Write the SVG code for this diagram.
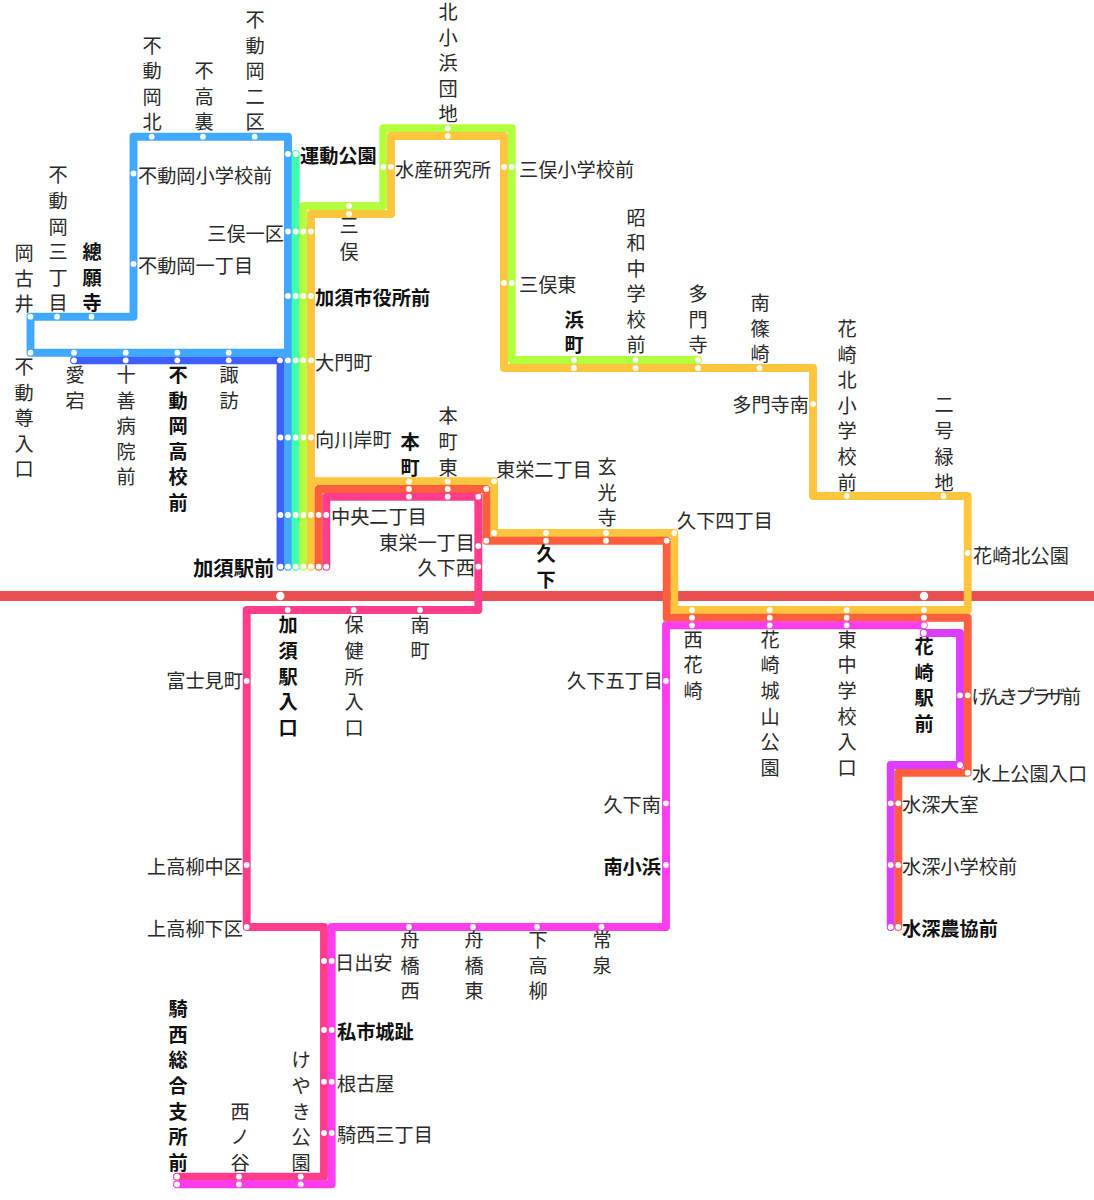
<svg xmlns="http://www.w3.org/2000/svg" width="1094" height="1200" viewBox="0 0 1094 1200">
<style>
text{font-family:"Noto Sans CJK JP","Noto Sans",sans-serif;font-size:19.2px;fill:#2a2a2a}
.b{font-weight:700;fill:#111}
.m{text-anchor:middle}
.e{text-anchor:end}
.l{fill:none;stroke-width:7.9;stroke-linecap:round;stroke-linejoin:round}
circle{fill:#fff;r:2.9px}
.big{r:4.2px}
</style>
<rect width="1094" height="1200" fill="#fff"/>
<g id="connectors">
<path id="rail" d="M0 596H1094" fill="none" stroke="#e85050" stroke-width="9.8"/>
<path class="l" stroke="#3d5fff" d="M74 360.3H280.5V566.7"/>
<path class="l" stroke="#40a8ff" d="M288 566.7V136.7H133.5V316.7H30.5V352.7H288"/>
<path class="l" stroke="#3dffb0" d="M295.7 566.7V154"/>
<path class="l" stroke="#b2ff3d" d="M303.3 566.7V206H383.3V128.3H511.7V360H698"/>
<path class="l" stroke="#ffc53d" d="M311 566.7V214H391V136H504V368H813V496H967.7V610H674.3V533H494V481.3H311"/>
<path class="l" stroke="#ff5f3d" d="M318.7 566.7V489H486.3V540.7H666.7V617.7H967.7V772.7H898.3V927"/>
<path class="l" stroke="#ff3d8a" d="M326.3 566.7V496.7H478.3V610H246.7V927H324V1176.7H177"/>
<path class="l" stroke="#ff3dee" d="M923.7 625.3H666V927H331.7V1184.3H177"/>
<path class="l" stroke="#dd3dff" d="M923.7 633H960V765H890.7V927"/>
</g>
<g id="okakoi"><circle cx="30.5" cy="316.7"/><text class="m" x="24 24 24" y="260 286 311">岡古井</text></g>
<g id="fudooka3"><circle cx="57" cy="316.7"/><text class="m" x="58 58 58 58 58 58" y="182 208 234 259 285 310">不動岡三丁目</text></g>
<g id="sogan"><circle cx="91.5" cy="316.7"/><text class="m b" x="92 92 92" y="259 285 310">總願寺</text></g>
<g id="fudoson"><circle cx="30.5" cy="352.7"/><text class="m" x="24 24 24 24 24" y="374 400 425 451 476">不動尊入口</text></g>
<g id="atago"><circle cx="74" cy="352.7"/><circle cx="74" cy="360.3"/><text class="m" x="75 75" y="382 408">愛宕</text></g>
<g id="juzen"><circle cx="125.7" cy="352.7"/><circle cx="125.7" cy="360.3"/><text class="m" x="126 126 126 126 126" y="382 408 433 459 484">十善病院前</text></g>
<g id="fudokoko"><circle cx="177.3" cy="352.7"/><circle cx="177.3" cy="360.3"/><text class="m b" x="178 178 178 178 178 178" y="382 408 433 459 484 510">不動岡高校前</text></g>
<g id="suwa"><circle cx="228.7" cy="352.7"/><circle cx="228.7" cy="360.3"/><text class="m" x="229 229" y="382 408">諏訪</text></g>
<g id="fudokita"><circle cx="151.7" cy="136.7"/><text class="m" x="152 152 152 152" y="53 78 104 129">不動岡北</text></g>
<g id="futakaura"><circle cx="203" cy="136.7"/><text class="m" x="204 204 204" y="78 104 129">不高裏</text></g>
<g id="fudo2"><circle cx="254.7" cy="136.7"/><text class="m" x="255 255 255 255 255" y="27 53 78 104 129">不動岡二区</text></g>
<g id="fudosho"><circle cx="133.5" cy="173.5"/><text x="138" y="183">不動岡小学校前</text></g>
<g id="fudo1"><circle cx="133.5" cy="264"/><text x="138" y="273">不動岡一丁目</text></g>
<g id="undo"><circle cx="288" cy="154"/><circle cx="295.7" cy="154"/><text class="b" x="300" y="163">運動公園</text></g>
<g id="mata1"><circle cx="288" cy="231.5"/><circle cx="295.7" cy="231.5"/><circle cx="303.3" cy="231.5"/><circle cx="311" cy="231.5"/><text class="e" x="284" y="241">三俣一区</text></g>
<g id="shiyakusho"><circle cx="288" cy="296"/><circle cx="295.7" cy="296"/><circle cx="303.3" cy="296"/><circle cx="311" cy="296"/><text class="b" x="315" y="305">加須市役所前</text></g>
<g id="daimon"><circle cx="280" cy="360.3"/><circle cx="288" cy="360.3"/><circle cx="295.7" cy="360.3"/><circle cx="303.3" cy="360.3"/><circle cx="311" cy="360.3"/><text x="315" y="370">大門町</text></g>
<g id="mukogawa"><circle cx="280.5" cy="437.5"/><circle cx="288" cy="437.5"/><circle cx="295.7" cy="437.5"/><circle cx="303.3" cy="437.5"/><circle cx="311" cy="437.5"/><text x="315" y="447">向川岸町</text></g>
<g id="chuo2"><circle cx="280.5" cy="515"/><circle cx="288" cy="515"/><circle cx="295.7" cy="515"/><circle cx="303.3" cy="515"/><circle cx="311" cy="515"/><circle cx="318.7" cy="515"/><circle cx="326.3" cy="515"/><text x="331" y="524">中央二丁目</text></g>
<g id="kazo"><circle cx="280.5" cy="566.7"/><circle cx="288" cy="566.7"/><circle cx="295.7" cy="566.7"/><circle cx="303.3" cy="566.7"/><circle cx="311" cy="566.7"/><circle cx="318.7" cy="566.7"/><circle cx="326.3" cy="566.7"/><circle class="big" cx="280.3" cy="596"/><text class="b e" x="274.5" y="576" style="font-size:20.4px">加須駅前</text></g>
<g id="mata"><circle cx="349" cy="206"/><circle cx="349" cy="214"/><text class="m" x="349 349" y="233 259">三俣</text></g>
<g id="suisan"><circle cx="383.3" cy="167"/><circle cx="391" cy="167"/><text x="395" y="177">水産研究所</text></g>
<g id="kitaobama"><circle cx="447.7" cy="128.3"/><circle cx="447.7" cy="136"/><text class="m" x="448 448 448 448 448" y="19 45 70 96 121">北小浜団地</text></g>
<g id="matasho"><circle cx="504" cy="167"/><circle cx="511.7" cy="167"/><text x="519" y="177">三俣小学校前</text></g>
<g id="matahigashi"><circle cx="504" cy="283"/><circle cx="511.7" cy="283"/><text x="519" y="292">三俣東</text></g>
<g id="hamacho"><circle cx="574" cy="360"/><circle cx="574" cy="368"/><text class="m b" x="574 574" y="327 352">浜町</text></g>
<g id="showa"><circle cx="635.5" cy="360"/><circle cx="635.5" cy="368"/><text class="m" x="636 636 636 636 636 636" y="225 250 276 301 327 352">昭和中学校前</text></g>
<g id="tamonji"><circle cx="698" cy="360"/><circle cx="698" cy="368"/><text class="m" x="698 698 698" y="301 327 352">多門寺</text></g>
<g id="minamishino"><circle cx="759.5" cy="368"/><text class="m" x="760 760 760" y="310 336 361">南篠崎</text></g>
<g id="tamonminami"><circle cx="813" cy="404"/><text class="e" x="809" y="412">多門寺南</text></g>
<g id="hanakitasho"><circle cx="847" cy="496"/><text class="m" x="847 847 847 847 847 847 847" y="336 362 387 413 438 464 490">花崎北小学校前</text></g>
<g id="nigo"><circle cx="943.5" cy="496"/><text class="m" x="944 944 944 944" y="412 438 464 490">二号緑地</text></g>
<g id="hanakoen"><circle cx="967.7" cy="553"/><text x="973" y="563">花崎北公園</text></g>
<g id="honcho"><circle cx="409" cy="481.3"/><circle cx="409" cy="489"/><circle cx="409" cy="496.7"/><text class="m b" x="410 410" y="449 475">本町</text></g>
<g id="honhigashi"><circle cx="447.7" cy="481.3"/><circle cx="447.7" cy="489"/><circle cx="447.7" cy="496.7"/><text class="m" x="448 448 448" y="423 449 475">本町東</text></g>
<g id="higa2"><circle cx="494" cy="481.3"/><circle cx="486.3" cy="489"/><circle cx="478.3" cy="496.7"/><text x="496" y="477">東栄二丁目</text></g>
<g id="higa1"><circle cx="494" cy="533"/><circle cx="486.3" cy="540.7"/><circle cx="478.3" cy="546"/><text class="e" x="475" y="550">東栄一丁目</text></g>
<g id="kukenishi"><circle cx="478.3" cy="566.7"/><text class="e" x="475" y="575">久下西</text></g>
<g id="kuke"><circle cx="546" cy="533"/><circle cx="546" cy="540.7"/><text class="m b" x="546 546" y="561 587">久下</text></g>
<g id="genko"><circle cx="606" cy="533"/><circle cx="606" cy="540.7"/><text class="m" x="607 607 607" y="474 500 525">玄光寺</text></g>
<g id="kuke4"><circle cx="674.3" cy="533"/><circle cx="666.7" cy="540.7"/><text x="677" y="528">久下四丁目</text></g>
<g id="kazoiri"><circle cx="287.7" cy="610"/><text class="m b" x="288 288 288 288 288" y="632 658 684 709 735">加須駅入口</text></g>
<g id="hokenjo"><circle cx="353.7" cy="610"/><text class="m" x="354 354 354 354 354" y="632 658 684 709 735">保健所入口</text></g>
<g id="minamicho"><circle cx="420" cy="610"/><text class="m" x="420 420" y="632 658">南町</text></g>
<g id="nishihana"><circle cx="692" cy="610"/><circle cx="692" cy="617.7"/><circle cx="692" cy="625.3"/><text class="m" x="693 693 693" y="647 672 698">西花崎</text></g>
<g id="hanashiro"><circle cx="769.7" cy="610"/><circle cx="769.7" cy="617.7"/><circle cx="769.7" cy="625.3"/><text class="m" x="770 770 770 770 770 770" y="647 672 698 724 749 775">花崎城山公園</text></g>
<g id="higashichu"><circle cx="846.7" cy="610"/><circle cx="846.7" cy="617.7"/><circle cx="846.7" cy="625.3"/><text class="m" x="847 847 847 847 847 847" y="647 672 698 724 749 775">東中学校入口</text></g>
<g id="hanasaki"><circle class="big" cx="924" cy="596"/><circle cx="924" cy="610"/><circle cx="924" cy="617.7"/><circle cx="924" cy="625.3"/><circle cx="923.7" cy="633"/><text class="m b" x="924 924 924 924" y="654 680 705 731">花崎駅前</text></g>
<g id="genki"><circle cx="960" cy="695.3"/><circle cx="967.7" cy="695.3"/><text x="971.5 985 999 1015.5 1031.5 1046 1062" y="704">げんきプラザ前</text></g>
<g id="mizukami"><circle cx="960" cy="765"/><circle cx="967.7" cy="772.7"/><text x="972" y="781">水上公園入口</text></g>
<g id="mifuka1"><circle cx="890.7" cy="803.3"/><circle cx="898.3" cy="803.3"/><text x="902" y="812">水深大室</text></g>
<g id="mifuka2"><circle cx="890.7" cy="865"/><circle cx="898.3" cy="865"/><text x="902" y="874">水深小学校前</text></g>
<g id="mifuka3"><circle cx="890.7" cy="927"/><circle cx="898.3" cy="927"/><text class="b" x="902" y="936">水深農協前</text></g>
<g id="kuke5"><circle cx="666" cy="681"/><text class="e" x="663" y="688">久下五丁目</text></g>
<g id="kukeminami"><circle cx="666" cy="803.3"/><text class="e" x="661" y="812">久下南</text></g>
<g id="minamikobama"><circle cx="666" cy="865"/><text class="e b" x="661" y="874">南小浜</text></g>
<g id="fujimi"><circle cx="246.7" cy="681"/><text class="e" x="243" y="688">富士見町</text></g>
<g id="kamitaka1"><circle cx="246.7" cy="865"/><text class="e" x="243" y="874">上高柳中区</text></g>
<g id="kamitaka2"><circle cx="246.7" cy="927"/><text class="e" x="243" y="936">上高柳下区</text></g>
<g id="funahashinishi"><circle cx="409" cy="927"/><text class="m" x="410 410 410" y="947 973 998">舟橋西</text></g>
<g id="funahashihigashi"><circle cx="473" cy="927"/><text class="m" x="474 474 474" y="947 973 998">舟橋東</text></g>
<g id="shimotaka"><circle cx="537" cy="927"/><text class="m" x="538 538 538" y="947 973 998">下高柳</text></g>
<g id="tokoizumi"><circle cx="601.5" cy="927"/><text class="m" x="602 602" y="947 973">常泉</text></g>
<g id="hiden"><circle cx="324" cy="961"/><circle cx="331.7" cy="961"/><text x="335" y="970">日出安</text></g>
<g id="kisaichi"><circle cx="324" cy="1030"/><circle cx="331.7" cy="1030"/><text class="b" x="337" y="1039">私市城趾</text></g>
<g id="negoya"><circle cx="324" cy="1081.7"/><circle cx="331.7" cy="1081.7"/><text x="337" y="1091">根古屋</text></g>
<g id="kisai3"><circle cx="324" cy="1133"/><circle cx="331.7" cy="1133"/><text x="337" y="1142">騎西三丁目</text></g>
<g id="kisaisogo"><circle cx="177" cy="1176.7"/><circle cx="177" cy="1184.3"/><text class="m b" x="178 178 178 178 178 178 178" y="1016 1042 1067 1093 1119 1144 1170">騎西総合支所前</text></g>
<g id="nishinoya"><circle cx="239" cy="1176.7"/><circle cx="239" cy="1184.3"/><text class="m" x="240 240 240" y="1119 1144 1170">西ノ谷</text></g>
<g id="keyaki"><circle cx="300.7" cy="1176.7"/><circle cx="300.7" cy="1184.3"/><text class="m" x="301 301 301 301 301" y="1067 1093 1119 1144 1170">けやき公園</text></g>
</svg>
